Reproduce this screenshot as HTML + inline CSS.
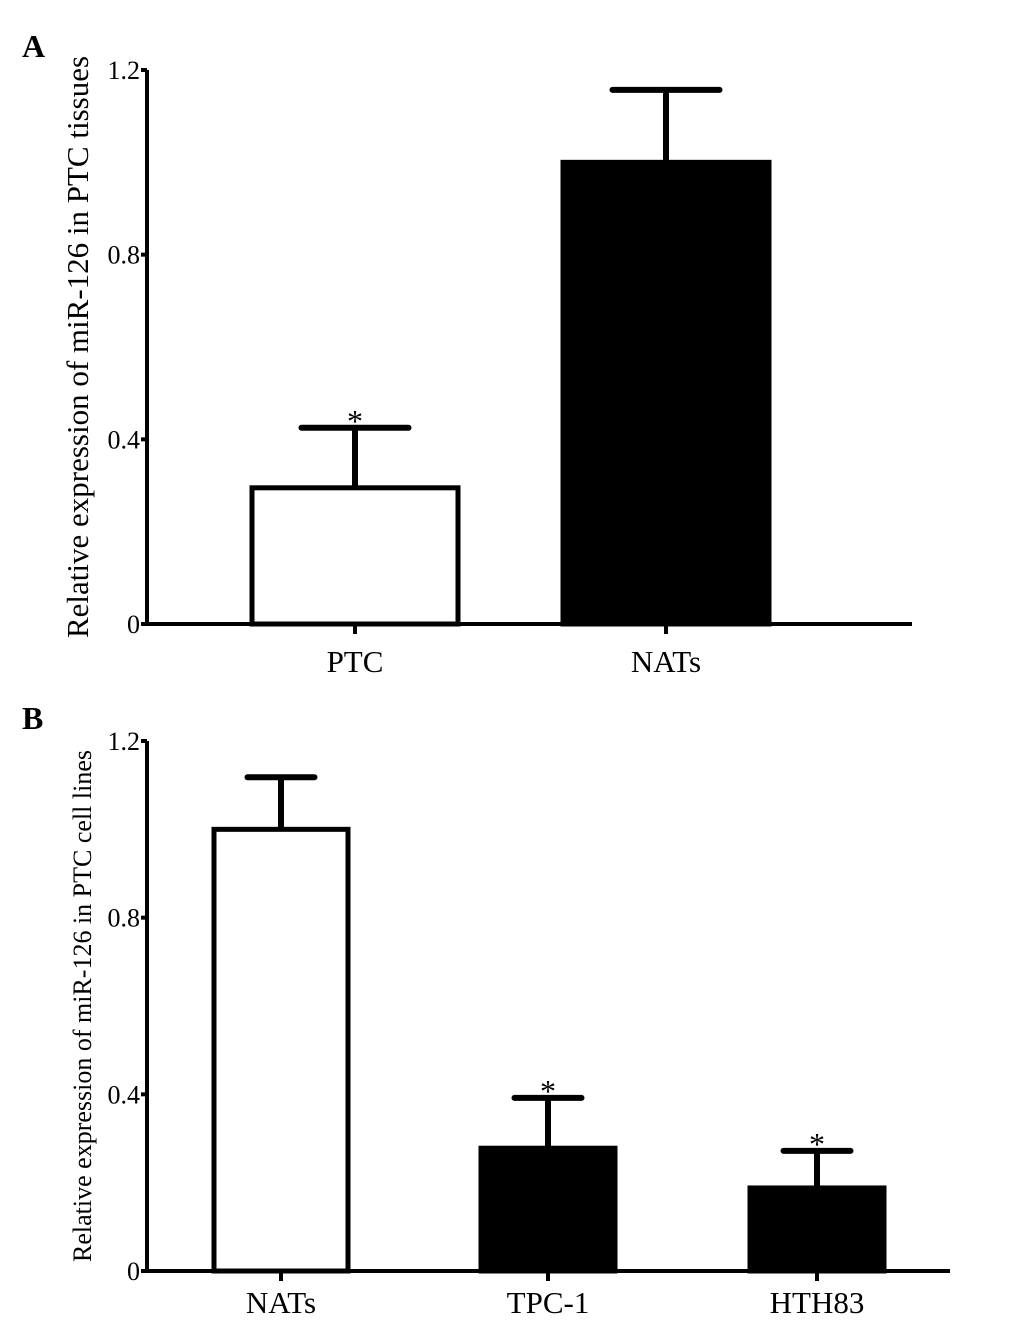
<!DOCTYPE html>
<html><head><meta charset="utf-8"><style>
body{margin:0;background:#fff;}
svg{display:block;font-family:"Liberation Serif",serif;}
</style></head><body>
<svg id="c" width="1033" height="1329" viewBox="0 0 1033 1329" xmlns="http://www.w3.org/2000/svg">
<text x="22" y="57" font-size="32" font-weight="bold">A</text>
<text x="22" y="729" font-size="32" font-weight="bold">B</text>
</svg>
<script>
const catsA = ["PTC", "NATs"];
const valsA = [0.295, 1.0];
const errA = [0.425, 1.157];
const fillA = ["#fff", "#000"];
const catsB = ["NATs", "TPC-1", "HTH83"];
const valsB = [1.0, 0.278, 0.188];
const errB = [1.118, 0.392, 0.272];
const fillB = ["#fff", "#000", "#000"];
const starsA = [true, false];
const starsB = [false, true, true];
const yTicks = [0, 0.4, 0.8, 1.2];
const yTickLabels = ["0", "0.4", "0.8", "1.2"];

const svg = document.getElementById('c');
const NS = 'http://www.w3.org/2000/svg';
function mk(tag, attrs, parent){const e=document.createElementNS(NS,tag);for(const k in attrs)e.setAttribute(k,attrs[k]);(parent||svg).appendChild(e);return e;}

function panel(p, cats, vals, errs, fills, stars){
  const y = v => p.y0 - (v/1.2)*(p.y0-p.y1);
  const g = mk('g',{});
  
  
  cats.forEach((c,i)=>{
    const cx = p.centers[i];
    const eb = mk('line',{x1:cx,x2:cx,y1:y(vals[i]),y2:y(errs[i]),stroke:'#000','stroke-width':6},g);
    
    
    const cap = mk('line',{x1:cx-p.cap/2,x2:cx+p.cap/2,y1:y(errs[i]),y2:y(errs[i]),stroke:'#000','stroke-width':6,'stroke-linecap':'round'},g);
    
    
    const r = mk('rect',{x:cx-p.bw/2,y:y(vals[i]),width:p.bw,height:p.y0-y(vals[i]),fill:fills[i],stroke:'#000','stroke-width':5},g);
    
    
    if(stars[i]){
      const s = mk('text',{x:cx,y:y(errs[i])+4,'font-size':32,'text-anchor':'middle'},g);
      s.textContent='*';
      
      
    }
    const tk = mk('line',{x1:cx,x2:cx,y1:p.y0,y2:p.y0+10,stroke:'#000','stroke-width':4},g);
    
    
    const t = mk('text',{x:cx,y:p.y0+p.catDy,'font-size':p.catFs,'text-anchor':'middle'},g);
    t.textContent=c;
    
    
  });
  const ya = mk('line',{x1:p.x0,x2:p.x0,y1:p.y1,y2:p.y0+2,stroke:'#000','stroke-width':4},g);
  
  
  const xa = mk('line',{x1:p.x0-6,x2:p.xEnd,y1:p.y0,y2:p.y0,stroke:'#000','stroke-width':4},g);
  
  
  yTicks.forEach((v,i)=>{
    const tl = mk('line',{x1:p.x0-6,x2:p.x0,y1:y(v),y2:y(v),stroke:'#000','stroke-width':4},g);
    
    
    const tt = mk('text',{x:p.x0-7,y:y(v)+9,'font-size':26,'text-anchor':'end'},g);
    tt.textContent=yTickLabels[i];
    
    
  });
  const yt = mk('text',{x:0,y:0,'font-size':p.titleFs,'text-anchor':'middle',transform:`translate(${p.titleX},${(p.y0+p.y1)/2}) rotate(-90)`},g);
  yt.textContent=p.title;
  
  
}

panel({name:'panel-a-chart',x0:147,y0:624,y1:70,xEnd:912,centers:[355,666],bw:206,cap:107,catDy:48,catFs:31,titleFs:31,titleX:88,title:'Relative expression of miR-126 in PTC tissues'},catsA,valsA,errA,fillA,starsA);
panel({name:'panel-b-chart',x0:147,y0:1271,y1:741,xEnd:950,centers:[281,548,817],bw:134,cap:67,catDy:42,catFs:31,titleFs:26,titleX:91,title:'Relative expression of miR-126 in PTC cell lines'},catsB,valsB,errB,fillB,starsB);
</script>
</body></html>
